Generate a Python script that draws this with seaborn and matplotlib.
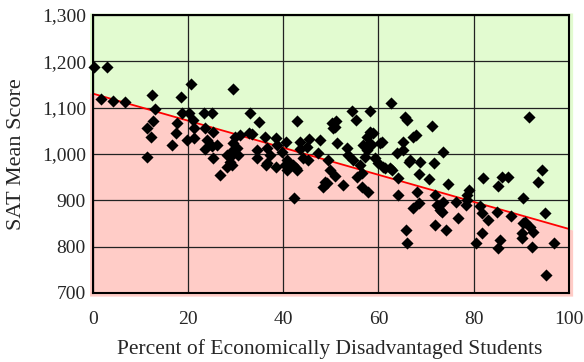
import numpy as np
import pandas as pd
import matplotlib
matplotlib.use("Agg")
import matplotlib.pyplot as plt
from matplotlib.ticker import FuncFormatter
import seaborn as sns

# percent of economically disadvantaged students vs SAT mean score
pct_disadv = [
    0.3, 2.9, 1.7, 4.2, 6.7,
    12.4, 13.1, 12.6, 11.3, 12.2, 11.3,
    18.5, 20.6, 16.6, 17.4, 17.7, 18.7, 20.2, 19.7, 21.2, 21.2, 21.0,
    23.3, 25.0, 29.4, 33.0,
    23.5, 25.2, 24.0, 23.5, 25.0, 26.0, 25.2, 26.7, 28.2, 28.8, 29.2, 28.2, 29.8, 30.9, 32.8, 30.2, 29.4, 30.5, 29.4, 28.8,
    34.9, 42.9, 33.4, 36.1, 38.4, 40.5, 43.5, 45.4, 47.7, 51.3, 50.2, 51.0, 50.4, 54.4, 55.3, 58.2, 62.6, 65.5, 66.0,
    58.2, 57.6, 60.7, 58.4, 56.7, 65.1, 67.2,
    34.5, 34.5, 36.6, 37.2, 36.3, 38.4, 39.7, 40.8, 42.0, 42.9, 43.5, 45.0, 44.1, 45.2, 47.3, 49.4, 49.8, 50.8,
    53.4, 53.6, 54.6, 56.1, 57.1, 57.6, 59.2, 59.9, 60.9, 62.4, 63.9, 65.1, 66.6,
    36.5, 40.3, 40.8, 42.6, 38.6, 48.7, 42.2,
    50.8, 71.2, 67.9, 58.8, 58.2, 60.3, 73.5, 66.4, 68.7, 71.6, 68.5, 70.6, 64.1, 61.3, 62.8,
    64.1, 68.5, 67.2, 71.8, 72.3, 73.5, 73.3, 65.8, 66.0, 71.8, 74.2,
    52.5, 49.2, 48.3, 56.5, 57.8, 56.5, 55.5, 68.0, 78.6,
    91.6, 94.3, 93.5, 81.9, 85.9, 87.2, 85.1, 74.6, 79.0, 78.6, 76.3, 72.9, 78.4, 81.3, 81.7, 83.0, 84.9,
    87.8, 90.3, 95.0, 90.8, 91.8, 92.4, 90.1, 90.1, 76.7, 81.7, 80.5, 85.5, 85.1, 92.2, 96.8, 95.2, 90.3,
]
sat_mean = [
    1188, 1188, 1119, 1114, 1112,
    1127, 1097, 1071, 1056, 1037, 994,
    1123, 1151, 1019, 1045, 1067, 1089, 1089, 1030, 1034, 1056, 1073,
    1089, 1089, 1140, 1089,
    1056, 1047, 1030, 1011, 1017, 1019, 991, 955, 998, 983, 976, 972, 1037, 1041, 1045, 1013, 1024, 998, 1009, 994,
    1069, 1071, 1043, 1037, 1034, 1026, 1026, 1032, 1030, 1024, 1067, 1071, 1056, 1093, 1073, 1093, 1110, 1080, 1073,
    1047, 1037, 1026, 1019, 1019, 1026, 1037,
    1009, 991, 1013, 998, 976, 972, 1004, 987, 976, 965, 1011, 1015, 991, 987, 1002, 987, 965, 952,
    1013, 998, 987, 976, 994, 1009, 991, 981, 972, 970, 1002, 1009, 987,
    981, 976, 965, 970, 1019, 940, 905,
    1058, 1060, 1041, 1045, 1024, 1024, 1004, 983, 983, 981, 957, 946, 948, 970, 965,
    912, 894, 883, 912, 890, 896, 875, 836, 808, 847, 836,
    933, 937, 929, 929, 918, 959, 950, 918, 900,
    1080, 965, 939, 948, 950, 950, 931, 935, 922, 911, 896, 879, 890, 888, 873, 858, 875,
    866, 905, 873, 853, 842, 831, 829, 818, 862, 829, 808, 814, 797, 799, 808, 739, 851,
]

# trend line end points
trend_x = [0, 100]
trend_y = [1130, 838]

df = pd.DataFrame({"pct": pct_disadv, "sat": sat_mean})
trend = pd.DataFrame({"x": trend_x, "y": trend_y})

sns.set_style("white")
plt.rcParams["font.family"] = ["Liberation Serif", "DejaVu Serif"]

fig = plt.figure(figsize=(5.84, 3.62), dpi=100)
ax = fig.add_axes([0.159, 0.191, 0.815, 0.768])

# shaded regions above/below the trend line (they spill a few px past the frame like the original)
xs = np.array([-0.7, 100.8])
slope = (trend_y[1] - trend_y[0]) / (trend_x[1] - trend_x[0])
line_y = trend_y[0] + slope * xs
ax.fill_between(xs, line_y, 1304, color="#e2fbd0", zorder=0, clip_on=False, linewidth=0)
ax.fill_between(xs, 693, line_y, color="#ffccc7", zorder=0, clip_on=False, linewidth=0)

ax.grid(True, color="#222222", linewidth=0.9)
for g in ax.get_xgridlines() + ax.get_ygridlines():
    g.set_zorder(1)

sns.lineplot(data=trend, x="x", y="y", color="red", linewidth=1.3, ax=ax, zorder=3)
sns.scatterplot(data=df, x="pct", y="sat", marker="D", s=38, color="black",
                edgecolor="black", linewidth=0, ax=ax, zorder=4, clip_on=False)

ax.set_xlim(0, 100)
ax.set_ylim(700, 1300)
ax.set_xticks([0, 20, 40, 60, 80, 100])
ax.set_yticks(range(700, 1301, 100))
ax.yaxis.set_major_formatter(FuncFormatter(lambda v, p: f"{int(v):,}"))
ax.tick_params(axis="both", length=0, labelsize=14)
ax.tick_params(axis="x", pad=13)
ax.tick_params(axis="y", pad=5)
ax.set_xlabel("Percent of Economically Disadvantaged Students", fontsize=15.5)
ax.set_ylabel("SAT Mean Score", fontsize=16)
ax.xaxis.set_label_coords(0.498, -0.168)
ax.yaxis.set_label_coords(-0.14, 0.5)
for s in ax.spines.values():
    s.set_color("black")
    s.set_linewidth(1.5)
    s.set_zorder(5)

fig.savefig("out.png", dpi=100)
